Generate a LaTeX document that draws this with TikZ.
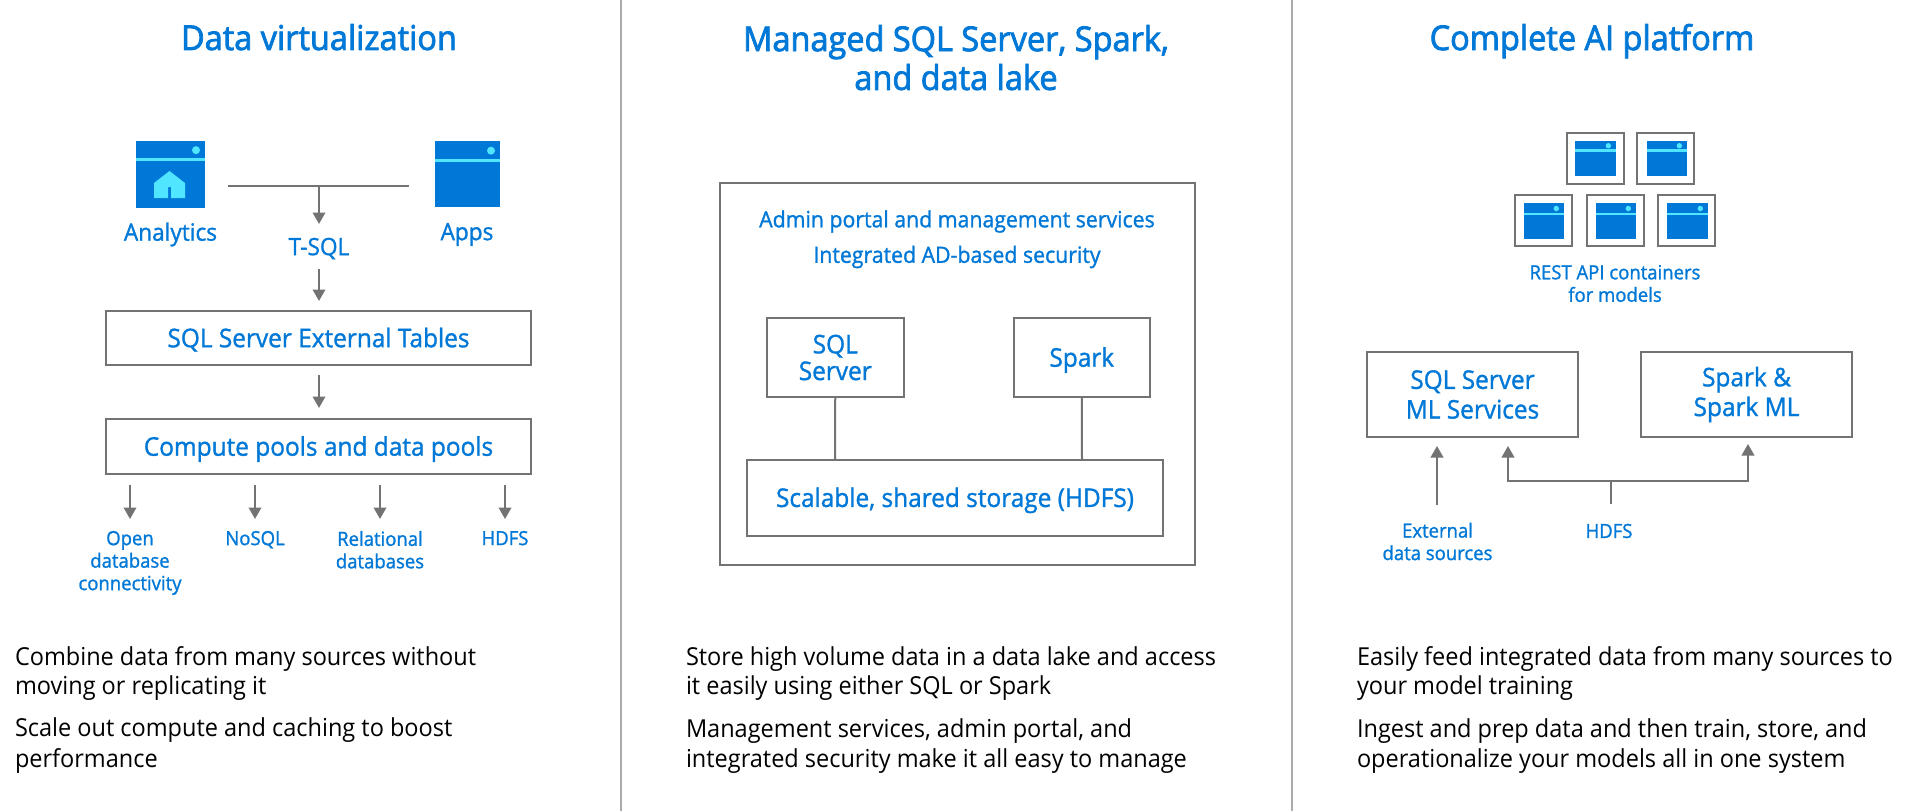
\documentclass[tikz,border=0pt]{standalone}
\usepackage{fontspec}
\setmainfont[FakeStretch=0.95]{Open Sans}
\newfontfamily\medf[FakeStretch=0.95,FakeBold=1.2]{Open Sans}
\newfontfamily\semif[FakeStretch=0.95,FakeBold=2.2]{Open Sans}
\usetikzlibrary{arrows.meta}
\definecolor{msblue}{HTML}{0078D7}
\definecolor{mscyan}{HTML}{50E6FF}
\definecolor{linegray}{HTML}{737373}
\definecolor{divgray}{HTML}{ABABAB}
\newcommand{\fsz}[1]{\fontsize{#1}{#1}\selectfont}
\newcommand{\capstrut}{\rule{0pt}{18.4pt}}
% \winicon{name}{left}{top}{right}{bottom}{bar y}{dot r}
\newcommand{\winicon}[7]{%
  \path[fill=msblue] (#2,#3) rectangle (#4,#5);
  \coordinate (#1) at ({(#2+#4)/2},{(#3+#5)/2});
  \fill[mscyan] (#2,{#6-1.2}) rectangle (#4,{#6+1.2});
  \fill[mscyan] ({#4-#7-5},{(#3+#6)/2}) circle (#7);
}
\tikzset{
  x=1pt,y=-1pt,
  every node/.style={inner sep=0pt,outer sep=0pt,align=center},
  box/.style={draw=linegray,line width=2pt,text=msblue,font=\medf\fsz{25.7}},
  onebox/.style={box,text height=18.4pt,text depth=0pt},
  title/.style={text=msblue,font=\semif\fsz{34.2},text depth=0pt},
  lbl/.style={text=msblue,font=\medf\fsz{23.8}},
  mid/.style={text=msblue,font=\medf\fsz{22.4}},
  sm/.style={text=msblue,font=\medf\fsz{19.5}},
  body/.style={text=black,anchor=west,align=left,font=\fsz{24.75}},
  conn/.style={draw=linegray,line width=2pt},
  arr/.style={conn,-{Triangle[length=11.5pt,width=12.5pt]}},
  divider/.style={draw=divgray,line width=1.4pt},
  thumb/.style={draw=linegray,line width=2pt,minimum width=57pt,minimum height=51pt},
}
\begin{document}
\begin{tikzpicture}
\useasboundingbox (0,0) rectangle (1917,811);
\fill[white] (0,0) rectangle (1917,811);
% dividers
\coordinate (d1a) at (621,0); \coordinate (d1b) at (621,811);
\coordinate (d2a) at (1292,0); \coordinate (d2b) at (1292,811);
\draw[divider] (d1a) -- (d1b);
\draw[divider] (d2a) -- (d2b);
% titles
\node[title] (t1) at (319,37) {Data virtualization};
\node[title] (t2) at (956,57.5) {Managed SQL Server, Spark,\\[4.6pt]and data lake};
\node[title] (t3) at (1592,37) {Complete AI platform};
% ---- left
\winicon{ana}{136}{141}{205}{208}{159.3}{4}
\fill[mscyan] (154,183) -- (169.5,171) -- (185,183) -- (185,198) -- (171,198) -- (171,187) -- (168,187) -- (168,198) -- (154,198) -- cycle;
\winicon{apps}{435}{141}{500}{207}{160.3}{4}
\node[lbl] (analytics) at (170.5,234.5) {Analytics};
\node[lbl] (appslbl) at (467,234.5) {Apps};
\coordinate (la) at (228,186); \coordinate (lb) at (409,186); \coordinate (lm) at (319,186);
\node[lbl] (tsql) at (319,248.5) {T-SQL};
\coordinate (tsqltip) at (319,224);
\coordinate (a2s) at (319,269);
\coordinate (a2e) at (319,301);
\draw[conn] (la) -- (lb);
\draw[arr] (lm) -- (tsqltip);
\draw[arr] (a2s) -- (a2e);
\node[onebox,minimum width=425pt,minimum height=54pt] (ext) at (318.5,338) {SQL Server External Tables};
\node[onebox,minimum width=425pt,minimum height=55pt] (pools) at (318.5,446.5) {Compute pools and data pools};
\coordinate (a3s) at (319,375); \coordinate (a3e) at (319,408);
\draw[arr] (a3s) -- (a3e);
\foreach \nm/\xx in {p/130,q/255,r/380,s/505}{
  \coordinate (\nm s) at (\xx,485); \coordinate (\nm e) at (\xx,519);
  \draw[arr] (\nm s) -- (\nm e);
}
\node[sm,anchor=north] (odbc) at (130,531) {Open\\[3pt]database\\[3pt]connectivity};
\node[sm,anchor=north] (nosql) at (255,531) {NoSQL};
\node[sm,anchor=north] (rel) at (380,531) {Relational\\[3pt]databases};
\node[sm,anchor=north] (hdfs1) at (505,531) {HDFS};
% ---- middle
\node[draw=linegray,line width=2pt,minimum width=474.5pt,minimum height=382pt] (outer) at (957.25,374) {};
\node[mid] (admin) at (957,221.5) {Admin portal and management services};
\node[mid] (sec) at (957,257) {Integrated AD-based security};
\node[box,minimum width=136.5pt,minimum height=79pt] (sql) at (835.25,357.5) {\capstrut SQL\\[1pt]\capstrut Server};
\node[onebox,minimum width=136.5pt,minimum height=79pt] (spark) at (1081.75,357.5) {Spark};
\node[onebox,minimum width=416pt,minimum height=75.5pt] (stor) at (955,497.75) {Scalable, shared storage (HDFS)};
\coordinate (sts) at (835,460); \coordinate (stp) at (1082,460);
\draw[conn] (sql.south) -- (sts);
\draw[conn] (spark.south) -- (stp);
% ---- right
\foreach \nm/\xl/\yt/\il/\ir/\it/\ib/\ibar in {
  a/1567/133/1575/1616/141/176/150.5,
  b/1637/133/1647/1687/141/176/150.5,
  c/1515/195/1524/1564/203/239/214,
  d/1587/195/1596/1636/203/239/214,
  e/1658/195/1667/1708/203/239/214}{
  \node[thumb,anchor=north west] (thumb\nm) at (\xl,\yt) {};
  \winicon{ic\nm}{\il}{\it}{\ir}{\ib}{\ibar}{2.7}
}
\node[sm] (rest) at (1615,283.5) {REST API containers\\[3pt]for models};
\node[box,minimum width=211pt,minimum height=84.5pt] (mlsql) at (1472.5,394.5) {\capstrut SQL Server\\[4pt]ML Services};
\node[box,minimum width=211pt,minimum height=84.5pt] (mlspark) at (1746.5,394.5) {\capstrut Spark \&\\[4pt]Spark ML};
\coordinate (exts) at (1437,505); \coordinate (exte) at (1437,446);
\draw[arr] (exts) -- (exte);
\coordinate (hs) at (1611,504); \coordinate (hm) at (1611,481);
\coordinate (hl) at (1508,481); \coordinate (hlt) at (1508,446);
\coordinate (hr) at (1748,481); \coordinate (hrt) at (1748,444);
\draw[conn] (hs) -- (hm);
\draw[arr] (hm) -- (hl) -- (hlt);
\draw[arr] (hm) -- (hr) -- (hrt);
\node[sm] (extlbl) at (1437.5,541.5) {External\\[3pt]data sources};
\node[sm] (hdfs2) at (1609,531) {HDFS};
% ---- body text
\node[body] (b1a) at (15,673.5) {Combine data from many sources without\\[5pt]moving or replicating it};
\node[body] (b1b) at (15,746) {Scale out compute and caching to boost\\[5pt]performance};
\node[body] (b2a) at (686,673.5) {Store high volume data in a data lake and access\\[5pt]it easily using either SQL or Spark};
\node[body] (b2b) at (686,746) {Management services, admin portal, and\\[5pt]integrated security make it all easy to manage};
\node[body] (b3a) at (1357,673.5) {Easily feed integrated data from many sources to\\[5pt]your model training};
\node[body] (b3b) at (1357,746) {Ingest and prep data and then train, store, and\\[5pt]operationalize your models all in one system};
\end{tikzpicture}
\end{document}
